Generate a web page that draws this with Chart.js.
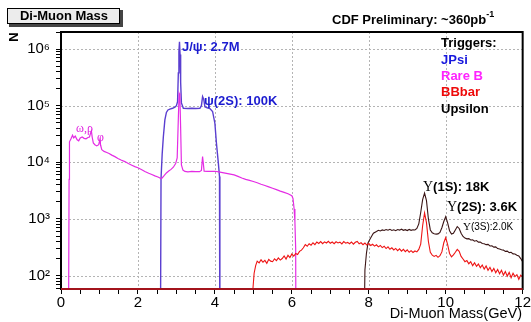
<!DOCTYPE html>
<html>
<head>
<meta charset="utf-8">
<script src="https://cdn.jsdelivr.net/npm/chart.js@4.4.0/dist/chart.umd.min.js"></script>
<style>
  html, body { margin: 0; padding: 0; background: #fff; }
</style>
</head>
<body>
<canvas id="massChart" width="531" height="322"></canvas>
<script>
// axis ticks
const xLabels = [0, 2, 4, 6, 8, 10, 12];
const yDecades = [2, 3, 4, 5, 6];
const triggers = ['JPsi', 'Rare B', 'BBbar', 'Upsilon'];

// JPsi trigger
const jpsiMass = [2.58, 2.60, 2.63, 2.66, 2.70, 2.74, 2.78, 2.83, 2.90, 2.96, 3.00, 3.03, 3.05, 3.065, 3.08, 3.095, 3.11, 3.13, 3.18, 3.30, 3.40, 3.50, 3.61, 3.65, 3.68, 3.71, 3.74, 3.80, 3.87, 3.94, 4.00, 4.04, 4.09, 4.12, 4.13];
const jpsiCount = [1, 5200, 14000, 28000, 56000, 76000, 84000, 87000, 90000, 94000, 100000, 118000, 380000, 900000, 1350000, 800000, 260000, 112000, 90000, 89000, 90000, 89000, 90000, 100000, 145000, 130000, 96000, 92000, 89000, 79000, 49000, 22000, 9700, 5600, 1];

// Rare B trigger
const rareMass = [0.19, 0.21, 0.22, 0.26, 0.30, 0.33, 0.37, 0.42, 0.46, 0.50, 0.55, 0.60, 0.65, 0.70, 0.74, 0.77, 0.79, 0.81, 0.84, 0.88, 0.93, 0.98, 1.01, 1.03, 1.06, 1.12, 1.19, 1.25, 1.32, 1.40, 1.48, 1.56, 1.66, 1.75, 1.84, 1.92, 2.00, 2.10, 2.18, 2.28, 2.36, 2.44, 2.52, 2.60, 2.63, 2.68, 2.74, 2.80, 2.86, 2.92, 2.98, 3.02, 3.05, 3.07, 3.09, 3.11, 3.13, 3.17, 3.22, 3.30, 3.40, 3.50, 3.60, 3.65, 3.68, 3.70, 3.72, 3.80, 3.90, 4.00, 4.10, 4.20, 4.30, 4.40, 4.50, 4.60, 4.70, 4.80, 4.90, 5.00, 5.10, 5.20, 5.30, 5.40, 5.50, 5.60, 5.70, 5.80, 5.90, 6.00, 6.03, 6.06, 6.08, 6.10, 6.11];
const rareCount = [1, 5000, 23000, 26000, 30000, 27000, 29000, 25000, 24000, 27000, 28000, 26500, 26000, 27500, 28000, 33000, 36000, 28000, 22000, 20500, 19500, 20500, 25000, 20000, 16700, 15600, 14900, 14300, 13400, 12600, 11700, 11000, 10300, 9500, 8900, 8400, 8000, 7400, 6900, 6400, 6100, 5760, 5500, 5150, 5300, 5800, 6500, 7000, 7500, 8200, 9500, 12000, 60000, 165000, 150000, 40000, 9000, 7300, 6900, 6800, 6900, 6850, 6850, 7200, 12600, 9500, 7000, 6950, 6950, 6950, 6800, 6600, 6400, 6200, 6000, 5650, 5300, 5000, 4800, 4580, 4350, 4100, 3900, 3680, 3480, 3300, 3100, 2950, 2780, 2570, 2300, 1500, 900, 300, 1];

// BBbar trigger
const bbMass = [4.97, 4.99, 5.02, 5.06, 5.10, 5.15, 5.20, 5.25, 5.30, 5.35, 5.40, 5.45, 5.50, 5.55, 5.60, 5.65, 5.70, 5.75, 5.80, 5.85, 5.90, 5.95, 6.00, 6.05, 6.10, 6.15, 6.20, 6.25, 6.30, 6.35, 6.40, 6.45, 6.50, 6.55, 6.60, 6.65, 6.70, 6.75, 6.80, 6.85, 6.90, 6.95, 7.00, 7.05, 7.10, 7.15, 7.20, 7.25, 7.30, 7.35, 7.40, 7.45, 7.50, 7.55, 7.60, 7.65, 7.70, 7.75, 7.80, 7.85, 7.90, 7.95, 8.00, 8.05, 8.10, 8.15, 8.20, 8.25, 8.30, 8.35, 8.40, 8.45, 8.50, 8.55, 8.60, 8.65, 8.70, 8.75, 8.80, 8.85, 8.90, 8.95, 9.00, 9.05, 9.10, 9.15, 9.20, 9.25, 9.30, 9.35, 9.40, 9.45, 9.50, 9.55, 9.60, 9.65, 9.70, 9.75, 9.80, 9.85, 9.90, 9.95, 10.00, 10.05, 10.10, 10.15, 10.20, 10.25, 10.30, 10.35, 10.40, 10.45, 10.50, 10.55, 10.60, 10.65, 10.70, 10.75, 10.80, 10.85, 10.90, 10.95, 11.00, 11.05, 11.10, 11.15, 11.20, 11.25, 11.30, 11.35, 11.40, 11.45, 11.50, 11.55, 11.60, 11.65, 11.70, 11.75, 11.80, 11.85, 11.90, 11.95, 12.00];
const bbCount = [1, 60, 110, 150, 180, 168, 190, 172, 186, 165, 194, 180, 176, 198, 184, 206, 188, 200, 222, 196, 228, 208, 240, 220, 246, 236, 268, 282, 310, 352, 330, 365, 345, 380, 352, 392, 370, 398, 366, 394, 376, 404, 372, 392, 366, 396, 378, 390, 362, 398, 374, 386, 366, 392, 358, 388, 402, 364, 380, 352, 376, 346, 368, 340, 358, 332, 350, 322, 340, 312, 330, 300, 322, 292, 310, 284, 302, 276, 296, 270, 290, 264, 284, 258, 276, 256, 272, 262, 290, 360, 760, 1280, 860, 400, 258, 230, 218, 228, 210, 224, 262, 380, 470, 352, 246, 214, 232, 258, 290, 268, 218, 196, 176, 184, 162, 176, 150, 168, 146, 160, 138, 154, 130, 148, 124, 140, 118, 134, 112, 128, 108, 124, 102, 118, 98, 114, 92, 110, 96, 104, 86, 102, 94];

// Upsilon trigger
const upsMass = [7.86, 7.90, 7.94, 7.98, 8.03, 8.07, 8.12, 8.20, 8.25, 8.30, 8.35, 8.40, 8.45, 8.50, 8.55, 8.60, 8.65, 8.70, 8.75, 8.80, 8.85, 8.90, 8.95, 9.00, 9.05, 9.10, 9.15, 9.20, 9.25, 9.30, 9.35, 9.40, 9.45, 9.50, 9.55, 9.60, 9.65, 9.70, 9.75, 9.80, 9.85, 9.90, 9.95, 10.00, 10.05, 10.10, 10.15, 10.20, 10.25, 10.30, 10.35, 10.40, 10.45, 10.50, 10.55, 10.60, 10.65, 10.70, 10.75, 10.80, 10.85, 10.90, 10.95, 11.00, 11.05, 11.10, 11.15, 11.20, 11.25, 11.30, 11.35, 11.40, 11.45, 11.50, 11.55, 11.60, 11.65, 11.70, 11.75, 11.80, 11.85, 11.90, 11.95, 12.00];
const upsCount = [1, 126, 250, 378, 440, 489, 560, 600, 630, 615, 640, 625, 650, 632, 655, 628, 645, 620, 650, 635, 660, 630, 648, 625, 652, 630, 645, 640, 680, 820, 1300, 2200, 2860, 2100, 1000, 640, 570, 550, 540, 545, 580, 700, 900, 1100, 850, 620, 540, 560, 640, 735, 680, 560, 490, 460, 445, 450, 425, 430, 405, 415, 390, 392, 370, 365, 352, 355, 334, 336, 318, 322, 300, 295, 285, 282, 268, 270, 255, 258, 242, 240, 228, 222, 200, 175];

function pts(xs, ys) {
    return xs.map((m, i) => ({ x: m, y: ys[i] }));
}

const SANS = '"Liberation Sans", Arial, Helvetica, sans-serif';
const SERIF = '"Liberation Serif", "DejaVu Serif", serif';

function isDecade(v) {
    const l = Math.log10(v);
    return Math.abs(l - Math.round(l)) < 1e-9;
}

const supDigits = { '0': '⁰', '1': '¹', '2': '²', '3': '³', '4': '⁴', '5': '⁵', '6': '⁶', '7': '⁷', '8': '⁸', '9': '⁹' };

// draw a run of text pieces [text, font, color, dy] left to right
function drawRun(ctx, x, y, parts) {
    ctx.textBaseline = 'middle';
    ctx.textAlign = 'left';
    parts.forEach(p => {
        ctx.font = p[1];
        ctx.fillStyle = p[2];
        ctx.fillText(p[0], x, y + (p[3] || 0));
        x += ctx.measureText(p[0]).width;
    });
    return x;
}

const decorations = {
    id: 'decorations',
    beforeDatasetsDraw(chart) {
        // dotted grid at the labelled ticks
        const ctx = chart.ctx;
        const a = chart.chartArea;
        const xs = chart.scales.x, ys = chart.scales.y;
        ctx.save();
        ctx.strokeStyle = '#b4b4b4';
        ctx.lineWidth = 1;
        ctx.setLineDash([2, 2]);
        ctx.beginPath();
        xLabels.slice(1, -1).forEach(v => {
            const px = Math.round(xs.getPixelForValue(v)) + 0.5;
            ctx.moveTo(px, a.top);
            ctx.lineTo(px, a.bottom);
        });
        yDecades.forEach(e => {
            const py = Math.round(ys.getPixelForValue(Math.pow(10, e))) + 0.5;
            ctx.moveTo(a.left, py);
            ctx.lineTo(a.right, py);
        });
        ctx.stroke();
        ctx.restore();
    },
    afterDatasetsDraw(chart) {
        const ctx = chart.ctx;
        const a = chart.chartArea;
        ctx.save();

        // frame
        ctx.strokeStyle = '#000';
        ctx.lineWidth = 2;
        ctx.strokeRect(a.left, a.top, a.right - a.left, a.bottom - a.top);
        ctx.strokeStyle = '#a3141c';
        ctx.beginPath();
        ctx.moveTo(a.left, a.bottom);
        ctx.lineTo(a.right, a.bottom);
        ctx.stroke();

        // title box
        ctx.fillStyle = '#444';
        ctx.fillRect(9, 10, 114, 17);
        ctx.fillStyle = '#ececec';
        ctx.fillRect(7, 8, 113, 16);
        ctx.strokeStyle = '#000';
        ctx.lineWidth = 1;
        ctx.strokeRect(7.5, 8.5, 112, 15);
        ctx.fillStyle = '#000';
        ctx.font = 'bold 13px ' + SANS;
        ctx.textAlign = 'center';
        ctx.textBaseline = 'middle';
        ctx.fillText('Di-Muon Mass', 64, 16.5);

        // luminosity
        drawRun(ctx, 332, 20, [
            ['CDF Preliminary: ~360pb', 'bold 13px ' + SANS, '#000'],
            ['-1', 'bold 9px ' + SANS, '#000', -5]
        ]);

        // trigger legend
        ctx.font = 'bold 13px ' + SANS;
        ctx.textAlign = 'left';
        ctx.fillStyle = '#000';
        ctx.fillText('Triggers:', 441, 43.5);
        const legColors = ['#1818dd', '#ff22ff', '#ee0a0a', '#000'];
        triggers.forEach((t, i) => {
            ctx.fillStyle = legColors[i];
            ctx.fillText(t, 441, 60 + i * 16.4);
        });

        // peak annotations
        const blue = '#1c1cd0';
        drawRun(ctx, 182, 47, [['J/ψ: 2.7M', 'bold 13px ' + SANS, blue]]);
        drawRun(ctx, 204, 101, [['ψ(2S): 100K', 'bold 13px ' + SANS, blue]]);
        drawRun(ctx, 76, 129, [['ω,ρ', '12px ' + SERIF, '#e020e0']]);
        drawRun(ctx, 97, 138, [['φ', '12px ' + SERIF, '#e020e0']]);
        drawRun(ctx, 423, 187, [['Υ', '14px ' + SERIF, '#000'], ['(1S): 18K', 'bold 13px ' + SANS, '#000']]);
        drawRun(ctx, 447, 207, [['Υ', '14px ' + SERIF, '#000'], ['(2S): 3.6K', 'bold 13px ' + SANS, '#000']]);
        drawRun(ctx, 463, 227, [['Υ', '11px ' + SERIF, '#000'], ['(3S):2.0K', '10px ' + SANS, '#000']]);

        // axis titles
        ctx.fillStyle = '#000';
        ctx.font = '14.5px ' + SANS;
        ctx.textAlign = 'right';
        ctx.textBaseline = 'middle';
        ctx.fillText('Di-Muon Mass(GeV)', 522, 314);
        ctx.translate(14, 37);
        ctx.rotate(-Math.PI / 2);
        ctx.font = 'bold 13px ' + SANS;
        ctx.textAlign = 'center';
        ctx.fillText('N', 0, 0);

        ctx.restore();
    }
};

const ctx = document.getElementById('massChart').getContext('2d');
const massChart = new Chart(ctx, {
    type: 'line',
    data: {
        datasets: [
            { label: 'BBbar', data: pts(bbMass, bbCount), borderColor: '#ee1414', borderWidth: 1.1, order: 0 },
            { label: 'Upsilon', data: pts(upsMass, upsCount), borderColor: '#3a1414', borderWidth: 1.1, order: 1 },
            { label: 'Rare B', data: pts(rareMass, rareCount), borderColor: '#e42ce4', borderWidth: 1.2, order: 2 },
            { label: 'JPsi', data: pts(jpsiMass, jpsiCount), borderColor: '#5a3ed0', borderWidth: 1.4, order: 3 }
        ]
    },
    options: {
        responsive: false,
        animation: false,
        devicePixelRatio: 1,
        elements: {
            point: { radius: 0 },
            line: { tension: 0, fill: false }
        },
        layout: { padding: { left: 0, right: 8, top: 32, bottom: 0 } },
        plugins: {
            legend: { display: false },
            tooltip: { enabled: false },
            title: { display: false }
        },
        scales: {
            x: {
                type: 'linear',
                min: 0,
                max: 12,
                afterFit: s => { s.height = 33; },
                ticks: {
                    stepSize: 0.5,
                    autoSkip: false,
                    maxRotation: 0,
                    padding: 0,
                    color: '#000',
                    font: { family: SANS, size: 15 },
                    callback: v => xLabels.includes(v) ? String(v) : ''
                },
                grid: {
                    drawOnChartArea: false,
                    tickColor: '#000',
                    tickLength: 5
                },
                border: { display: false }
            },
            y: {
                type: 'logarithmic',
                min: 58,
                max: 2000000,
                afterFit: s => { s.width = 61; },
                afterBuildTicks: s => {
                    const t = [];
                    [1].concat(yDecades).forEach(e => {
                        for (let m = 1; m <= 9; m++) {
                            const v = m * Math.pow(10, e);
                            if (v >= s.min && v <= s.max) t.push({ value: v });
                        }
                    });
                    s.ticks = t;
                },
                ticks: {
                    autoSkip: false,
                    padding: 6,
                    color: '#000',
                    font: { family: SANS, size: 15 },
                    callback: v => isDecade(v) ? '10' + String(Math.round(Math.log10(v))).split('').map(d => supDigits[d]).join('') : ''
                },
                grid: {
                    drawOnChartArea: false,
                    tickColor: '#000',
                    tickLength: 5
                },
                border: { display: false }
            }
        }
    },
    plugins: [decorations]
});
</script>
</body>
</html>
